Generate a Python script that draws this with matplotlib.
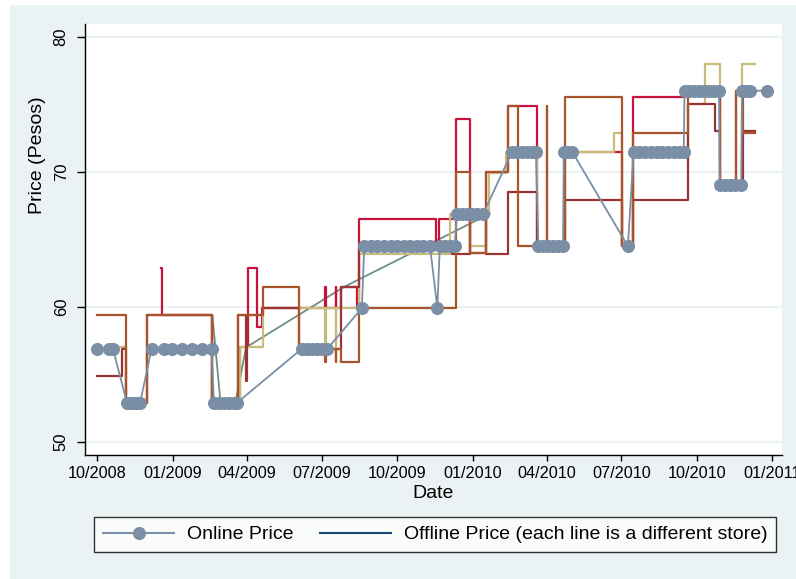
import matplotlib
matplotlib.use('Agg')
import matplotlib.pyplot as plt
import pandas as pd
from matplotlib.lines import Line2D
from matplotlib.patches import Rectangle

plt.rcParams['font.family'] = ['Liberation Sans', 'DejaVu Sans']

# ---------------- data ----------------
online_dates = [
    '2008-10-01', '2008-10-15', '2008-10-20',
    '2008-11-06', '2008-11-10', '2008-11-14', '2008-11-18', '2008-11-22',
    '2008-12-06',
    '2008-12-21', '2008-12-31', '2009-01-12', '2009-01-24', '2009-02-05', '2009-02-17',
    '2009-02-20', '2009-02-26', '2009-03-04', '2009-03-10', '2009-03-16', '2009-03-20',
    '2009-06-07', '2009-06-13', '2009-06-19', '2009-06-25', '2009-07-01', '2009-07-08',
    '2009-08-19',
    '2009-08-22', '2009-08-30', '2009-09-07', '2009-09-15', '2009-09-23', '2009-10-01',
    '2009-10-09', '2009-10-17', '2009-10-25', '2009-11-02', '2009-11-10',
    '2009-11-19',
    '2009-11-22', '2009-11-28', '2009-12-04', '2009-12-10',
    '2009-12-13', '2009-12-19', '2009-12-25', '2009-12-31', '2010-01-06', '2010-01-14',
    '2010-02-18', '2010-02-24', '2010-03-02', '2010-03-08', '2010-03-14', '2010-03-19',
    '2010-03-22', '2010-03-28', '2010-04-03', '2010-04-09', '2010-04-15', '2010-04-21',
    '2010-04-22', '2010-04-27', '2010-05-02',
    '2010-07-09',
    '2010-07-16', '2010-07-23', '2010-07-30', '2010-08-06', '2010-08-13', '2010-08-20',
    '2010-08-27', '2010-09-03', '2010-09-09', '2010-09-15',
    '2010-09-16', '2010-09-22', '2010-09-28', '2010-10-04', '2010-10-10', '2010-10-16',
    '2010-10-22', '2010-10-28',
    '2010-10-29', '2010-11-04', '2010-11-10', '2010-11-16', '2010-11-24',
    '2010-11-25', '2010-11-30', '2010-12-05',
    '2010-12-26',
]
online_price = [
    56.9, 56.9, 56.9,
    52.9, 52.9, 52.9, 52.9, 52.9,
    56.9,
    56.9, 56.9, 56.9, 56.9, 56.9, 56.9,
    52.9, 52.9, 52.9, 52.9, 52.9, 52.9,
    56.9, 56.9, 56.9, 56.9, 56.9, 56.9,
    59.9,
    64.5, 64.5, 64.5, 64.5, 64.5, 64.5,
    64.5, 64.5, 64.5, 64.5, 64.5,
    59.9,
    64.5, 64.5, 64.5, 64.5,
    66.9, 66.9, 66.9, 66.9, 66.9, 66.9,
    71.5, 71.5, 71.5, 71.5, 71.5, 71.5,
    64.5, 64.5, 64.5, 64.5, 64.5, 64.5,
    71.5, 71.5, 71.5,
    64.5,
    71.5, 71.5, 71.5, 71.5, 71.5, 71.5,
    71.5, 71.5, 71.5, 71.5,
    76.0, 76.0, 76.0, 76.0, 76.0, 76.0,
    76.0, 76.0,
    69.0, 69.0, 69.0, 69.0, 69.0,
    76.0, 76.0, 76.0,
    76.0,
]

# offline stores (price changes, stairstep)
store_a_dates = ['2008-10-01', '2008-11-05', '2008-11-30', '2009-02-18', '2009-03-21',
                 '2009-04-21', '2009-06-03', '2009-07-05', '2009-07-06', '2009-07-18',
                 '2009-07-19', '2009-07-25', '2009-08-15', '2009-12-12', '2009-12-29',
                 '2010-01-17', '2010-02-13', '2010-02-25', '2010-04-01', '2010-04-02',
                 '2010-04-23', '2010-07-02', '2010-07-15', '2010-09-20', '2010-10-29',
                 '2010-11-18', '2010-11-26', '2010-12-11']
store_a_price = [59.4, 52.9, 59.4, 52.9, 59.4,
                 61.5, 56.9, 55.9, 56.9, 55.9,
                 56.9, 55.9, 59.9, 70.0, 64.0,
                 70.0, 74.9, 64.5, 74.9, 64.5,
                 75.5, 64.5, 72.9, 76.0, 69.0,
                 76.0, 72.9, 72.9]

store_b_dates = ['2008-10-01', '2008-10-31', '2008-11-05', '2008-11-30', '2009-02-18',
                 '2009-03-21', '2009-03-31', '2009-04-01', '2009-04-21', '2009-06-03',
                 '2009-07-25', '2009-08-15', '2009-12-07', '2009-12-29', '2010-01-17',
                 '2010-02-13', '2010-03-20', '2010-04-23', '2010-07-02', '2010-07-15',
                 '2010-09-20', '2010-10-23', '2010-10-29', '2010-11-26', '2010-12-11']
store_b_price = [54.9, 56.9, 52.9, 59.4, 52.9,
                 59.4, 54.5, 59.4, 59.9, 56.9,
                 61.5, 64.5, 63.9, 66.9, 63.9,
                 68.5, 64.5, 67.9, 64.5, 67.9,
                 75.0, 73.0, 69.0, 73.0, 73.0]

store_c_dates = ['2008-12-17', '2008-12-19', '2009-02-18', '2009-03-24', '2009-04-02',
                 '2009-04-13', '2009-04-19', '2009-07-05', '2009-07-06', '2009-07-18',
                 '2009-07-19', '2009-07-25', '2009-08-13', '2009-08-15', '2009-11-17',
                 '2009-11-21', '2009-12-12', '2009-12-29', '2010-01-17', '2010-02-13',
                 '2010-03-20', '2010-04-23', '2010-07-02', '2010-07-15', '2010-09-18',
                 '2010-10-29', '2010-11-18', '2010-12-05']
store_c_price = [62.9, 59.4, 52.9, 57.0, 62.9,
                 58.5, 59.9, 61.5, 59.9, 61.5,
                 59.9, 61.5, 59.9, 66.5, 64.5,
                 66.5, 73.9, 64.0, 70.0, 74.9,
                 64.5, 71.5, 64.5, 75.5, 76.0,
                 69.0, 76.0, 76.0]

store_d_dates = ['2008-10-25', '2008-11-05', '2008-11-30', '2009-02-18', '2009-03-24',
                 '2009-04-21', '2009-07-05', '2009-07-06', '2009-07-18', '2009-07-19',
                 '2009-08-15', '2009-12-04', '2009-12-29', '2010-01-17', '2010-01-21',
                 '2010-02-11', '2010-03-20', '2010-04-22', '2010-06-22', '2010-07-02',
                 '2010-07-15', '2010-09-20', '2010-10-11', '2010-10-29', '2010-11-25',
                 '2010-12-11']
store_d_price = [57.0, 52.9, 56.9, 52.9, 57.0,
                 59.9, 56.9, 59.9, 56.9, 59.9,
                 63.9, 66.9, 64.5, 66.9, 69.9,
                 71.5, 64.5, 71.5, 72.9, 64.5,
                 71.5, 75.0, 78.0, 69.0, 78.0,
                 78.0]

# sparse store, observations joined by straight segments
store_e_dates = ['2008-11-30', '2009-02-18', '2009-02-28', '2009-03-18', '2009-03-31',
                 '2009-07-29', '2010-01-22']
store_e_price = [59.4, 59.4, 52.9, 52.9, 57.0, 61.5, 66.9]

tick_dates = ['2008-10-01', '2009-01-01', '2009-04-01', '2009-07-01', '2009-10-01',
              '2010-01-01', '2010-04-01', '2010-07-01', '2010-10-01', '2011-01-01']
tick_labels = ['10/2008', '01/2009', '04/2009', '07/2009', '10/2009',
               '01/2010', '04/2010', '07/2010', '10/2010', '01/2011']
y_ticks = [50, 60, 70, 80]

# ---------------- style ----------------
BG = '#EAF2F3'
ONLINE = '#7A8FA6'
C_SIENNA = '#A9542B'
C_DKRED = '#9A3333'
C_CRIMSON = '#C8143C'
C_KHAKI = '#C8BC7C'
C_GREEN = '#6E8F80'
NAVY = '#1A476F'

W, H = 796, 579
fig = plt.figure(figsize=(W / 100, H / 100), dpi=100, facecolor=BG)
fig.patches.append(Rectangle((0, 0), 9 / W, 1, transform=fig.transFigure,
                             color='white', zorder=-10))
fig.patches.append(Rectangle((0, 1 - 4 / H), 1, 4 / H, transform=fig.transFigure,
                             color='white', zorder=-10))

left, right, top, bottom = 85.3, 781.7, 24, 455
ax = fig.add_axes([left / W, 1 - bottom / H, (right - left) / W, (bottom - top) / H])
ax.set_facecolor('white')

lw = 1.6
ax.plot(pd.to_datetime(store_e_dates), store_e_price, color=C_GREEN, lw=1.3, zorder=2)
for d, p, c in [(store_c_dates, store_c_price, C_CRIMSON),
                (store_d_dates, store_d_price, C_KHAKI),
                (store_b_dates, store_b_price, C_DKRED),
                (store_a_dates, store_a_price, C_SIENNA)]:
    ax.plot(pd.to_datetime(d), p, drawstyle='steps-post', color=c, lw=lw, zorder=3)

ax.plot(pd.to_datetime(online_dates), online_price, '-o', color=ONLINE, ms=8.4,
        lw=1.3, mec=ONLINE, zorder=5)

x0 = pd.Timestamp('2008-10-01')
ax.set_xlim(x0 - pd.Timedelta(days=14.7), x0 + pd.Timedelta(days=833.3))
ax.set_ylim(50 - 13 / 13.51, 80 + 12.7 / 13.51)

ax.set_xticks(pd.to_datetime(tick_dates))
ax.set_xticklabels(tick_labels)
ax.set_yticks(y_ticks)
ax.set_yticklabels([str(v) for v in y_ticks], rotation=90, va='center')
ax.tick_params(axis='x', length=4, width=1, pad=4, labelsize=11.7)
ax.tick_params(axis='y', length=6, width=1, pad=6, labelsize=12)

ax.yaxis.grid(True, color=BG, lw=1.5)
ax.set_axisbelow(True)
for s in ['top', 'right']:
    ax.spines[s].set_visible(False)
for s in ['left', 'bottom']:
    ax.spines[s].set_linewidth(1.0)

ax.set_xlabel('Date', fontsize=14, labelpad=3)
ax.set_ylabel('Price (Pesos)', fontsize=14, va='center')
ax.yaxis.set_label_coords((38 - left) / (right - left), (bottom - 155) / (bottom - top))

h1 = Line2D([], [], color=ONLINE, marker='o', ms=8.4, lw=1.5)
h2 = Line2D([], [], color=NAVY, lw=1.5)
leg = fig.legend([h1, h2], ['Online Price', 'Offline Price (each line is a different store)'],
                 loc='center', bbox_to_anchor=(435.15 / W, 1 - 534.65 / H), ncol=2,
                 frameon=True, fancybox=False, edgecolor='black', facecolor='white',
                 fontsize=14, handlelength=3.66, handletextpad=0.66, columnspacing=1.33,
                 borderpad=0.45, borderaxespad=0)
leg.get_frame().set_linewidth(1.0)

fig.savefig('out.png', dpi=100, facecolor=fig.get_facecolor())
